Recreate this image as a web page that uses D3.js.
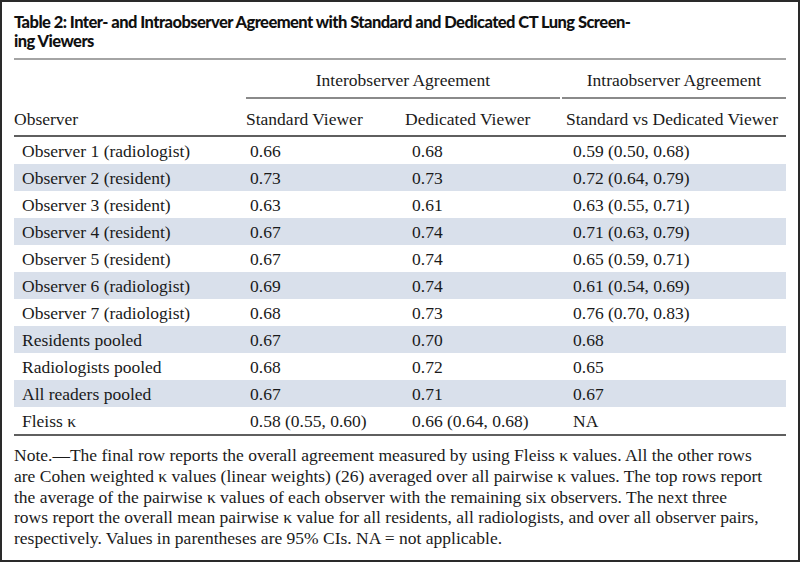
<!DOCTYPE html>
<html>
<head>
<meta charset="utf-8">
<script src="https://cdn.jsdelivr.net/npm/d3@7.9.0/dist/d3.min.js"></script>
<style>
  body { margin: 0; background: #fff; }
  svg { display: block; }
  .serif { font-family: "Liberation Serif", "DejaVu Serif", serif; fill: #1a1a1a; }
  .title { font-family: Lato, "Open Sans", sans-serif; font-weight: 900; fill: #111; letter-spacing: -0.55px; }
</style>
</head>
<body>
<svg width="800" height="562"></svg>
<script>
const titleLines = [
  'Table 2: Inter- and Intraobserver Agreement with Standard and Dedicated CT Lung Screen-',
  'ing Viewers'
];
const groupHeaders = ['Interobserver Agreement', 'Intraobserver Agreement'];
const columnHeaders = ['Observer', 'Standard Viewer', 'Dedicated Viewer', 'Standard vs Dedicated Viewer'];

const observers = [
  'Observer 1 (radiologist)', 'Observer 2 (resident)', 'Observer 3 (resident)',
  'Observer 4 (resident)', 'Observer 5 (resident)', 'Observer 6 (radiologist)',
  'Observer 7 (radiologist)', 'Residents pooled', 'Radiologists pooled',
  'All readers pooled', 'Fleiss κ'
];
const standardKappa = [0.66, 0.73, 0.63, 0.67, 0.67, 0.69, 0.68, 0.67, 0.68, 0.67, 0.58];
const standardCI = [null, null, null, null, null, null, null, null, null, null, [0.55, 0.60]];
const dedicatedKappa = [0.68, 0.73, 0.61, 0.74, 0.74, 0.74, 0.73, 0.70, 0.72, 0.71, 0.66];
const dedicatedCI = [null, null, null, null, null, null, null, null, null, null, [0.64, 0.68]];
const intraKappa = [0.59, 0.72, 0.63, 0.71, 0.65, 0.61, 0.76, 0.68, 0.65, 0.67, null];
const intraCI = [[0.50, 0.68], [0.64, 0.79], [0.55, 0.71], [0.63, 0.79], [0.59, 0.71],
  [0.54, 0.69], [0.70, 0.83], null, null, null, null];

const noteLines = [
  'Note.—The final row reports the overall agreement measured by using Fleiss κ values. All the other rows',
  'are Cohen weighted κ values (linear weights) (26) averaged over all pairwise κ values. The top rows report',
  'the average of the pairwise κ values of each observer with the remaining six observers. The next three',
  'rows report the overall mean pairwise κ value for all residents, all radiologists, and over all observer pairs,',
  'respectively. Values in parentheses are 95% CIs. NA = not applicable.'
];

const svg = d3.select('svg');
const W = 800, H = 562;
const left = 14, right = 786;
const fmt = d3.format('.2f');
const cell = (v, ci) => v == null ? 'NA' : fmt(v) + (ci ? ` (${fmt(ci[0])}, ${fmt(ci[1])})` : '');

// outer frame
svg.append('rect')
  .attr('x', 1).attr('y', 1).attr('width', W - 2).attr('height', H - 2)
  .attr('fill', 'none').attr('stroke', '#2a2a2a').attr('stroke-width', 2);

// title
svg.selectAll('.title').data(titleLines).join('text')
  .attr('class', 'title')
  .attr('x', left)
  .attr('y', (d, i) => 28 + i * 19)
  .attr('font-size', 16.5)
  .text(d => d);

// columns
const cols = ['observer', 'standard', 'dedicated', 'intra'];
const headX = d3.scaleOrdinal().domain(cols).range([14, 246, 405, 566]);
const cellX = d3.scaleOrdinal().domain(cols).range([22, 250, 412, 573]);

// rows
const y = d3.scaleBand().domain(d3.range(observers.length)).range([137, 434]);

const rows = observers.map((name, i) => ({
  i,
  observer: name,
  standard: cell(standardKappa[i], standardCI[i]),
  dedicated: cell(dedicatedKappa[i], dedicatedCI[i]),
  intra: cell(intraKappa[i], intraCI[i])
}));

// zebra bands
svg.selectAll('.band').data(rows.filter(r => r.i % 2 === 1)).join('rect')
  .attr('class', 'band')
  .attr('x', left).attr('width', right - left)
  .attr('y', r => y(r.i)).attr('height', y.bandwidth())
  .attr('fill', '#d9e0eb');

// rules
const rule = (x1, x2, yy, color, w) => svg.append('line')
  .attr('x1', x1).attr('x2', x2).attr('y1', yy).attr('y2', yy)
  .attr('stroke', color).attr('stroke-width', w);
rule(left, right, 59, '#4a4a4a', 1.2);
rule(246, 560, 98, '#8a8a8a', 2);
rule(562, right, 98, '#8a8a8a', 2);
rule(left, right, 136, '#2a2a2a', 1.5);
rule(left, right, 435, '#2a2a2a', 1.5);

// group headers
const groupSpan = [[246, 560], [562, right]];
svg.selectAll('.group').data(groupHeaders).join('text')
  .attr('class', 'serif group')
  .attr('x', (d, i) => (groupSpan[i][0] + groupSpan[i][1]) / 2)
  .attr('y', 86)
  .attr('text-anchor', 'middle')
  .attr('font-size', 17.5)
  .text(d => d);

// column headers
svg.selectAll('.colhead').data(columnHeaders).join('text')
  .attr('class', 'serif colhead')
  .attr('x', (d, i) => headX(cols[i]))
  .attr('y', 125)
  .attr('font-size', 17.5)
  .text(d => d);

// body cells
const rowG = svg.selectAll('.row').data(rows).join('g')
  .attr('class', 'row')
  .attr('transform', r => `translate(0,${y(r.i) + y.bandwidth() / 2 + 6})`);
cols.forEach(c => {
  rowG.append('text')
    .attr('class', 'serif')
    .attr('x', cellX(c))
    .attr('font-size', 17.5)
    .text(r => r[c]);
});

// note
svg.selectAll('.note').data(noteLines).join('text')
  .attr('class', 'serif note')
  .attr('x', left)
  .attr('y', (d, i) => 461 + i * 20.8)
  .attr('font-size', 17.5)
  .text(d => d);
</script>
</body>
</html>
